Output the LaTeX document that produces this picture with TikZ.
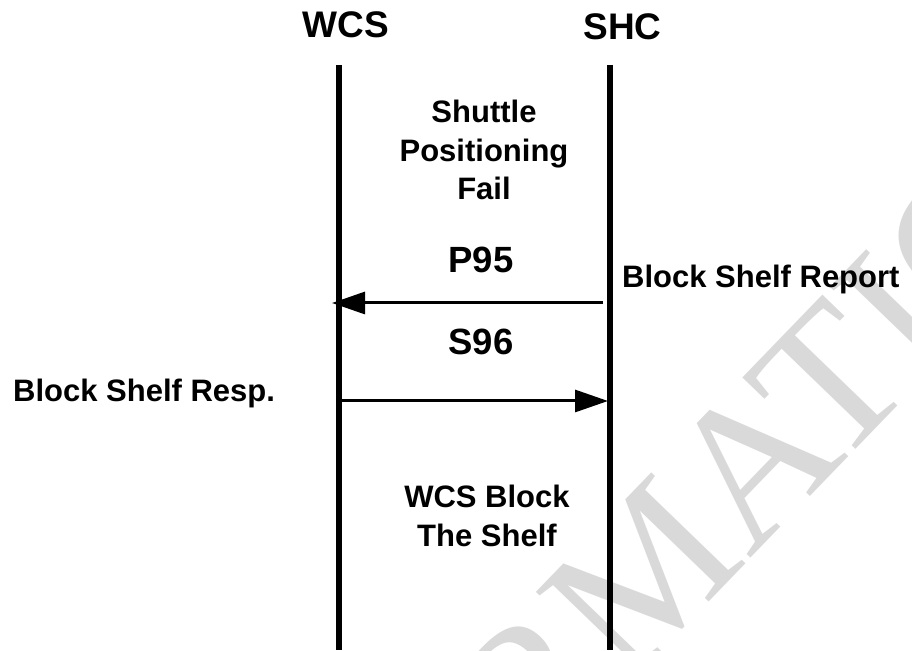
\documentclass[tikz,border=0pt]{standalone}
\usepackage{fontspec}
\setmainfont{Liberation Sans}
\newfontfamily\wmfont{Liberation Serif}
\usetikzlibrary{arrows.meta}
\definecolor{wmgray}{RGB}{217,217,217}
\tikzset{
  title/.style={font=\bfseries\fontsize{37}{44}\selectfont, inner sep=0pt},
  msg/.style={font=\bfseries\fontsize{36.5}{44}\selectfont, inner sep=0pt},
  body/.style={font=\bfseries\fontsize{31}{38.5}\selectfont, inner sep=0pt, align=center},
  lifeline/.style={line width=5.5pt},
  arrowline/.style={line width=3pt, -{Triangle[length=33pt, width=22pt]}},
  watermark/.style={font=\wmfont\fontsize{200}{200}\selectfont, text=wmgray, inner sep=0pt, rotate=46}
}
\begin{document}
\begin{tikzpicture}[x=1pt, y=1pt]
\useasboundingbox (0,0) rectangle (912,650);
\clip (0,0) rectangle (912,650);
\fill[white] (0,0) rectangle (912,650);
% watermark
\node[watermark] (wm) at (641,72) {INFORMATION};
% lifelines
\coordinate (wcsTop) at (339,585);
\coordinate (wcsBot) at (339,0);
\coordinate (shcTop) at (610,585);
\coordinate (shcBot) at (610,0);
\draw[lifeline] (wcsTop) -- (wcsBot);
\draw[lifeline] (shcTop) -- (shcBot);
% titles
\node[title, anchor=base] (wcs) at (346,612) {WCS};
\node[title, anchor=base] (shc) at (622.5,610) {SHC};
% texts
\node[body, anchor=north] (fail) at (484,550) {Shuttle\\Positioning\\Fail};
\node[msg, anchor=base] (p95) at (481,377) {P95};
\node[msg, anchor=base] (s96) at (481,295) {S96};
\node[body, anchor=base west] (report) at (622,362) {Block Shelf Report};
\node[body, anchor=base west] (resp) at (13,248) {Block Shelf Resp.};
\node[body, anchor=north] (block) at (487,165) {WCS Block\\The Shelf};
% messages
\coordinate (p95s) at (603,347);
\coordinate (p95e) at (332,347);
\coordinate (s96s) at (339,249);
\coordinate (s96e) at (608,249);
\draw[arrowline] (p95s) -- (p95e);
\draw[arrowline] (s96s) -- (s96e);
\end{tikzpicture}
\end{document}
